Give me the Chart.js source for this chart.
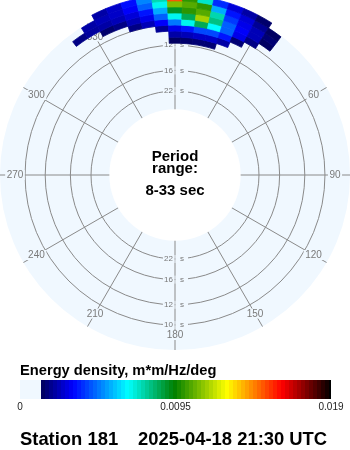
<!DOCTYPE html>
<html>
<head>
<meta charset="utf-8">
<script src="https://cdn.jsdelivr.net/npm/chart.js@4.4.1/dist/chart.umd.min.js"></script>
<style>
  html, body { margin: 0; padding: 0; background: #fff; }
</style>
</head>
<body>
<canvas id="spec" width="350" height="450"></canvas>
<script>
// spokes, clockwise from north (deg)
const dirLabels = ['0', '30', '60', '90', '120', '150', '180', '210', '240', '270', '300', '330'];
// period rings (s)
const periodTicks = [22, 16, 12, 10];
const periodRange = [8, 33];

// spectrum bins: direction centres (deg) and frequency centres (Hz)
const binDirs = [-35, -30, -25, -20, -15, -10, -5, 0, 5, 10, 15, 20, 25, 30, 35];
const binFreqs = [0.0875, 0.0925, 0.0975, 0.1025, 0.1075, 0.1125, 0.1175, 0.1225];
// energy density, one row per frequency (low -> high), columns follow binDirs
const energy = [
  [0, 0, 0, 0, 0, 0, 0, 0.0014, 0.0015, 0.0016, 0.0016, 0, 0, 0, 0],
  [0, 0, 0, 0, 0, 0, 0, 0.0022, 0.0024, 0.0026, 0.0026, 0.0022, 0, 0, 0],
  [0, 0, 0, 0, 0, 0, 0.0020, 0.0030, 0.0035, 0.0042, 0.0042, 0.0035, 0.0016, 0, 0],
  [0, 0, 0, 0, 0.0018, 0.0024, 0.0032, 0.0048, 0.0068, 0.0085, 0.0066, 0.0045, 0.0030, 0.0018, 0],
  [0, 0, 0.0015, 0.0018, 0.0024, 0.0030, 0.0045, 0.0068, 0.0085, 0.0115, 0.0080, 0.0045, 0.0032, 0.0024, 0.0014],
  [0.0018, 0.0021, 0.0022, 0.0024, 0.0028, 0.0035, 0.0055, 0.0090, 0.0100, 0.0105, 0.0075, 0.0040, 0.0030, 0.0024, 0.0016],
  [0, 0.0022, 0.0024, 0.0026, 0.0032, 0.0045, 0.0068, 0.0110, 0.0105, 0.0100, 0.0055, 0.0035, 0.0028, 0.0020, 0.0014],
  [0, 0, 0.0022, 0.0026, 0.0034, 0.0050, 0.0075, 0.0150, 0.0100, 0.0072, 0.0038, 0.0028, 0.0022, 0.0015, 0]
];

// colour bar
const cbarTicks = [0, 0.0095, 0.019];
const cbarMax = 0.019;
const cbarFloor = 0.0013;   // below this: background

const BG = '#f0f8ff';
const GRID = '#8a8a8a';

// jet-like colour map, t in 0..1
const stops = [
  [0, [0, 0, 90]], [0.11, [0, 0, 255]], [0.30, [0, 255, 255]], [0.46, [0, 128, 0]],
  [0.64, [255, 255, 0]], [0.83, [255, 0, 0]], [1, [0, 0, 0]]
];
function mapColor(t) {
  t = Math.max(0, Math.min(1, t));
  for (let k = 1; k < stops.length; k++) {
    if (t <= stops[k][0]) {
      const [t0, c0] = stops[k - 1], [t1, c1] = stops[k];
      const u = (t - t0) / (t1 - t0);
      const c = c0.map((v, n) => Math.round(v + (c1[n] - v) * u));
      return `rgb(${c[0]},${c[1]},${c[2]})`;
    }
  }
  return 'rgb(0,0,0)';
}
function valueColor(v) {
  return mapColor((v - cbarFloor) / (cbarMax - cbarFloor));
}

const specPlugin = {
  id: 'spec',
  afterDraw(chart) {
    const s = chart.scales.r;
    const ctx = chart.ctx;
    const cx = s.xCenter, cy = s.yCenter;
    const font = '"Liberation Sans", Arial, sans-serif';
    ctx.save();

    // white core (periods longer than the range)
    ctx.beginPath();
    ctx.arc(cx, cy, s.getDistanceFromCenterForValue(1 / periodRange[1]), 0, 2 * Math.PI);
    ctx.fillStyle = '#fff';
    ctx.fill();

    // direction labels
    ctx.font = '10px ' + font;
    ctx.textAlign = 'center';
    ctx.textBaseline = 'middle';
    dirLabels.forEach((lab, i) => {
      const p = s.getPointPosition(i, s.drawingArea - 15);
      const w = ctx.measureText(lab).width;
      ctx.fillStyle = BG;
      ctx.fillRect(p.x - w / 2 - 1.5, p.y - 5, w + 3, 10);
      ctx.fillStyle = '#7a7a7a';
      ctx.fillText(lab, p.x, p.y + 0.5);
    });

    // period labels on the N-S spoke
    ctx.font = '8px ' + font;
    periodTicks.forEach(T => {
      const r = s.getDistanceFromCenterForValue(1 / T);
      [cy - r, cy + r].forEach(y => {
        ctx.fillStyle = BG;
        ctx.fillRect(cx - 12, y - 4, 11.5, 8);
        ctx.fillRect(cx + 0.5, y - 4, 12.5, 8);
        ctx.fillStyle = '#777';
        ctx.textAlign = 'right';
        ctx.fillText(String(T), cx - 2, y);
        ctx.textAlign = 'left';
        ctx.fillText('s', cx + 5, y);
      });
    });

    // spectrum cells
    const dStep = binDirs[1] - binDirs[0];
    const fStep = binFreqs[1] - binFreqs[0];
    const perIndex = 360 / dirLabels.length;
    energy.forEach((row, j) => {
      const rIn = s.getDistanceFromCenterForValue(binFreqs[j] - fStep / 2);
      const rOut = s.getDistanceFromCenterForValue(binFreqs[j] + fStep / 2);
      row.forEach((v, i) => {
        if (v < cbarFloor) return;
        const a0 = s.getIndexAngle((binDirs[i] - dStep / 2) / perIndex) - Math.PI / 2;
        const a1 = s.getIndexAngle((binDirs[i] + dStep / 2) / perIndex) - Math.PI / 2;
        ctx.beginPath();
        ctx.arc(cx, cy, rOut, a0, a1);
        ctx.arc(cx, cy, rIn, a1, a0, true);
        ctx.closePath();
        ctx.fillStyle = ctx.strokeStyle = valueColor(v);
        ctx.lineWidth = 0.8;
        ctx.fill();
        ctx.stroke();
      });
    });

    // centre text
    ctx.fillStyle = '#000';
    ctx.textAlign = 'center';
    ctx.textBaseline = 'alphabetic';
    ctx.font = 'bold 15px ' + font;
    ctx.fillText('Period', cx, 160.5);
    ctx.fillText('range:', cx, 172.5);
    ctx.fillText(periodRange[0] + '-' + periodRange[1] + ' sec', cx, 195);

    // colour bar
    const x0 = 20, x1 = 331, yb = 380, hb = 19;
    const xOf = v => x0 + v / cbarMax * (x1 - x0);
    ctx.textAlign = 'left';
    ctx.font = 'bold 14.7px ' + font;
    ctx.fillText('Energy density, m*m/Hz/deg', 20, 375);
    ctx.fillStyle = BG;
    ctx.fillRect(x0, yb, xOf(cbarFloor) - x0, hb);
    const xs = Math.round(xOf(cbarFloor));
    for (let x = xs; x < x1; x += 4) {
      const v = cbarFloor + (x - xs + 2) / (x1 - xs) * (cbarMax - cbarFloor);
      ctx.fillStyle = valueColor(v);
      ctx.fillRect(x, yb, Math.min(4, x1 - x), hb);
    }
    ctx.fillStyle = '#222';
    ctx.font = '10px ' + font;
    ctx.textAlign = 'center';
    cbarTicks.forEach(v => ctx.fillText(String(v), xOf(v), 410));

    // footer
    ctx.fillStyle = '#000';
    ctx.textAlign = 'left';
    ctx.font = 'bold 18.4px ' + font;
    ctx.fillText('Station 181', 20, 445);
    ctx.fillText('2025-04-18 21:30 UTC', 138, 445);
    ctx.restore();
  }
};

new Chart(document.getElementById('spec'), {
  type: 'radar',
  data: { labels: dirLabels, datasets: [] },
  options: {
    responsive: false,
    animation: false,
    layout: { padding: { bottom: 100 } },
    plugins: { legend: { display: false }, tooltip: { enabled: false } },
    scales: {
      r: {
        min: -0.024,
        max: 0.1207,
        backgroundColor: BG,
        grid: { circular: true, color: GRID, lineWidth: 1 },
        angleLines: { color: GRID, lineWidth: 1 },
        pointLabels: { display: false },
        ticks: { display: false },
        afterBuildTicks: sc => { sc.ticks = periodTicks.map(T => ({ value: 1 / T })); }
      }
    }
  },
  plugins: [specPlugin]
});
</script>
</body>
</html>
